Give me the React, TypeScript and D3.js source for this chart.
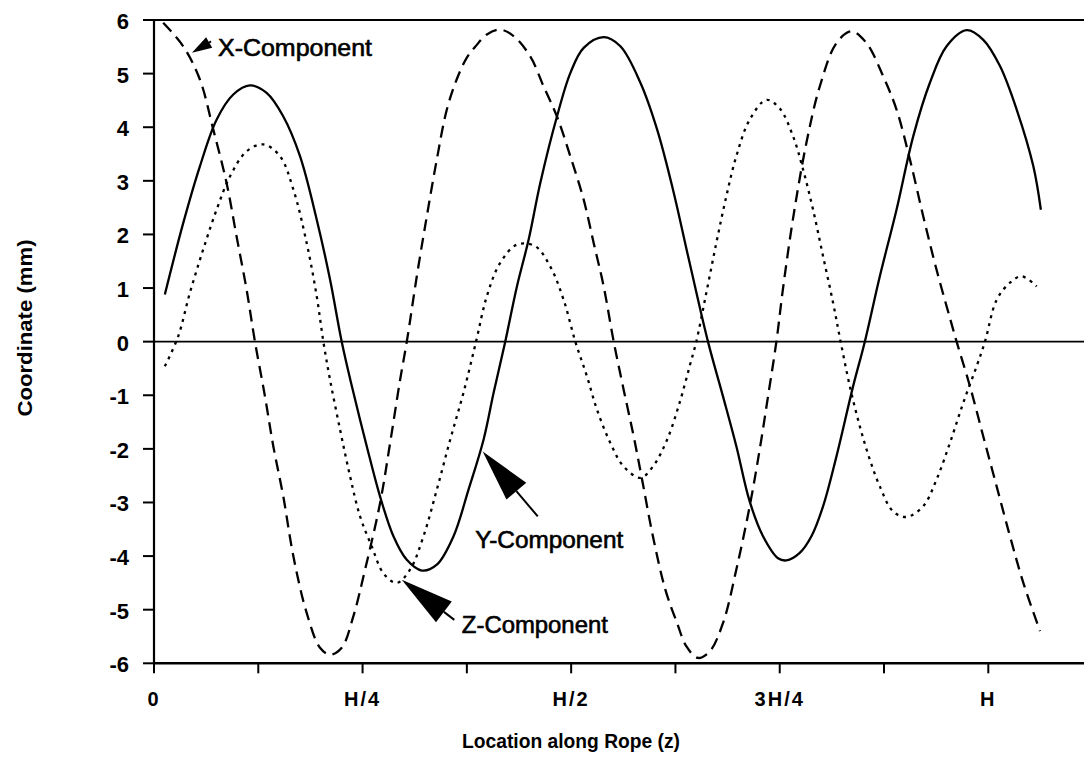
import React, { useEffect, useRef } from 'react'
import * as d3 from 'd3'

const width = 1084
const height = 757

// location along the rope as a fraction of H, coordinate in mm
const xComponent: [number, number][] = [
  [0.011, 5.95], [0.035, 5.51], [0.055, 4.89], [0.071, 3.96], [0.087, 2.96], [0.099, 1.96],
  [0.111, 0.97], [0.121, 0], [0.133, -1.02], [0.143, -1.95], [0.155, -2.89], [0.167, -4.0],
  [0.183, -5.06], [0.199, -5.71], [0.211, -5.84], [0.225, -5.71], [0.239, -5.12], [0.253, -4.25],
  [0.271, -3.01], [0.283, -1.89], [0.295, -0.71], [0.303, 0], [0.315, 1.22], [0.327, 2.34],
  [0.339, 3.4], [0.351, 4.33], [0.363, 4.9], [0.375, 5.3], [0.385, 5.5], [0.399, 5.73],
  [0.415, 5.82], [0.431, 5.7], [0.451, 5.32], [0.467, 4.76], [0.483, 4.2], [0.499, 3.46],
  [0.515, 2.65], [0.527, 1.84], [0.539, 1.03], [0.551, 0], [0.563, -0.9], [0.575, -1.77],
  [0.585, -2.57], [0.598, -3.63], [0.613, -4.63], [0.627, -5.25], [0.638, -5.68], [0.652, -5.9],
  [0.666, -5.78], [0.682, -5.25], [0.698, -4.25], [0.714, -3.07], [0.726, -2.01], [0.736, -1.02],
  [0.746, 0], [0.754, 1.0], [0.766, 2.3], [0.782, 3.71], [0.798, 4.76], [0.818, 5.57],
  [0.836, 5.79], [0.854, 5.57], [0.874, 4.95], [0.89, 4.33], [0.906, 3.4], [0.922, 2.34],
  [0.938, 1.34], [0.958, 0.22], [0.962, 0], [0.978, -0.83], [0.994, -1.77], [1.01, -2.7],
  [1.026, -3.63], [1.042, -4.5], [1.062, -5.4]
]

const yComponent: [number, number][] = [
  [0.013, 0.88], [0.035, 2.21], [0.055, 3.27], [0.075, 4.14], [0.095, 4.61], [0.115, 4.78],
  [0.135, 4.64], [0.155, 4.2], [0.175, 3.46], [0.195, 2.28], [0.211, 1.16], [0.225, 0],
  [0.239, -0.95], [0.255, -1.95], [0.271, -2.89], [0.287, -3.63], [0.303, -4.07], [0.321, -4.27],
  [0.339, -4.16], [0.359, -3.63], [0.377, -2.76], [0.395, -1.83], [0.407, -0.96], [0.421, 0],
  [0.435, 1.03], [0.449, 1.9], [0.463, 2.96], [0.483, 4.2], [0.499, 5.01], [0.515, 5.48],
  [0.539, 5.68], [0.559, 5.51], [0.583, 4.83], [0.603, 3.96], [0.622, 2.84], [0.642, 1.47],
  [0.664, 0], [0.682, -1.02], [0.698, -1.95], [0.714, -2.98], [0.73, -3.63], [0.748, -4.04],
  [0.758, -4.08], [0.774, -3.94], [0.788, -3.63], [0.802, -3.07], [0.818, -2.14], [0.838, -0.83],
  [0.852, 0], [0.87, 1.22], [0.89, 2.46], [0.91, 3.83], [0.93, 4.83], [0.95, 5.51],
  [0.974, 5.81], [0.994, 5.63], [1.014, 5.14], [1.034, 4.33], [1.054, 3.27], [1.063, 2.46]
]

const zComponent: [number, number][] = [
  [0.013, -0.46], [0.029, 0.1], [0.043, 0.91], [0.059, 1.72], [0.075, 2.46], [0.091, 3.08],
  [0.111, 3.55], [0.131, 3.68], [0.151, 3.46], [0.167, 2.84], [0.183, 1.84], [0.195, 0.85],
  [0.203, 0], [0.211, -0.71], [0.223, -1.64], [0.235, -2.51], [0.247, -3.26], [0.261, -3.82],
  [0.275, -4.32], [0.291, -4.5], [0.307, -4.25], [0.323, -3.63], [0.339, -2.76], [0.355, -1.83],
  [0.371, -0.95], [0.386, 0], [0.399, 0.85], [0.415, 1.47], [0.435, 1.81], [0.457, 1.78],
  [0.475, 1.4], [0.491, 0.78], [0.505, 0], [0.519, -0.65], [0.531, -1.27], [0.547, -1.89],
  [0.563, -2.33], [0.583, -2.54], [0.598, -2.33], [0.615, -1.83], [0.63, -1.14], [0.642, -0.46],
  [0.65, 0], [0.662, 0.91], [0.674, 1.84], [0.686, 2.71], [0.698, 3.46], [0.714, 4.14],
  [0.734, 4.51], [0.75, 4.35], [0.766, 3.83], [0.778, 3.21], [0.79, 2.46], [0.802, 1.59],
  [0.814, 0.72], [0.823, 0], [0.834, -0.83], [0.846, -1.58], [0.858, -2.2], [0.87, -2.7],
  [0.886, -3.17], [0.902, -3.27], [0.922, -3.07], [0.938, -2.57], [0.954, -1.89], [0.97, -1.14],
  [0.986, -0.46], [0.996, 0], [1.01, 0.78], [1.026, 1.1], [1.04, 1.22], [1.058, 1.03]
]

const xTickValues = [0, 0.25, 0.5, 0.75, 1]
const xTickLabels = ['0', 'H/4', 'H/2', '3H/4', 'H']
const xMinorTicks = [0.125, 0.375, 0.625, 0.875]
const yTickValues = [-6, -5, -4, -3, -2, -1, 0, 1, 2, 3, 4, 5, 6]

const callouts = [
  { label: 'X-Component', tip: [0.0455, 5.39], tail: [0.0683, 5.6], head: 20, headWidth: 12, at: [0.0767, 5.32], len: 154 },
  { label: 'Y-Component', tip: [0.394, -2.05], tail: [0.46, -3.26], head: 52, headWidth: 26, at: [0.385, -3.84], len: 148 },
  { label: 'Z-Component', tip: [0.297, -4.44], tail: [0.36, -5.19], head: 53, headWidth: 26, at: [0.369, -5.43], len: 146 }
]

const font = '"Liberation Sans", Arial, Helvetica, sans-serif'

function RopeChart () {
  const ref = useRef<SVGSVGElement>(null)

  useEffect(() => {
    const svg = d3.select(ref.current)
    svg.selectAll('*').remove()

    const left = 154
    const x = d3.scaleLinear().domain([0, 1]).range([left, 988.3])
    const y = d3.scaleLinear().domain([-6, 6]).range([663.3, 20])

    // frame lines (top, bottom, zero, left)
    svg.append('line')
      .attr('x1', left).attr('x2', width).attr('y1', y(6)).attr('y2', y(6))
      .attr('stroke', '#000').attr('stroke-width', 2.2)
    svg.append('line')
      .attr('x1', left).attr('x2', width).attr('y1', y(-6)).attr('y2', y(-6))
      .attr('stroke', '#000').attr('stroke-width', 2.6)
    svg.append('line')
      .attr('x1', left).attr('x2', width).attr('y1', y(0)).attr('y2', y(0))
      .attr('stroke', '#000').attr('stroke-width', 1.6)
    svg.append('line')
      .attr('x1', left).attr('x2', left).attr('y1', y(6)).attr('y2', y(-6))
      .attr('stroke', '#000').attr('stroke-width', 2.2)

    // y ticks
    const yt = svg.append('g')
    yt.selectAll('line').data(yTickValues).enter().append('line')
      .attr('x1', left - 11).attr('x2', left)
      .attr('y1', d => y(d)).attr('y2', d => y(d))
      .attr('stroke', '#000').attr('stroke-width', 2)
    yt.selectAll('text').data(yTickValues).enter().append('text')
      .attr('x', 129).attr('y', d => y(d) + 9)
      .attr('text-anchor', 'end')
      .attr('font-family', font).attr('font-weight', 'bold').attr('font-size', 22)
      .text(d => String(d))

    // x ticks
    const xt = svg.append('g')
    xt.selectAll('line').data(xTickValues.concat(xMinorTicks)).enter().append('line')
      .attr('x1', d => x(d)).attr('x2', d => x(d))
      .attr('y1', y(-6)).attr('y2', y(-6) + 10)
      .attr('stroke', '#000').attr('stroke-width', 2)
    xt.selectAll('text').data(xTickValues).enter().append('text')
      .attr('x', d => x(d)).attr('y', 706)
      .attr('text-anchor', 'middle')
      .attr('font-family', font).attr('font-weight', 'bold').attr('font-size', 20)
      .attr('letter-spacing', 2)
      .text((d, i) => xTickLabels[i])

    // axis titles
    svg.append('text')
      .attr('x', 571).attr('y', 748)
      .attr('text-anchor', 'middle')
      .attr('font-family', font).attr('font-weight', 'bold').attr('font-size', 21)
      .attr('textLength', 218).attr('lengthAdjust', 'spacingAndGlyphs')
      .text('Location along Rope (z)')
    svg.append('g')
      .attr('transform', 'translate(32,328)')
      .append('text')
      .attr('transform', 'rotate(-90)')
      .attr('text-anchor', 'middle')
      .attr('font-family', font).attr('font-weight', 'bold').attr('font-size', 21)
      .attr('textLength', 177).attr('lengthAdjust', 'spacingAndGlyphs')
      .text('Coordinate (mm)')

    // curves
    const line = d3.line<[number, number]>()
      .x(d => x(d[0]))
      .y(d => y(d[1]))
      .curve(d3.curveCatmullRom)

    const series = [
      { data: yComponent, dash: null },
      { data: xComponent, dash: '12,7' },
      { data: zComponent, dash: '3,5' }
    ]
    series.forEach(s => {
      svg.append('path')
        .datum(s.data)
        .attr('fill', 'none')
        .attr('stroke', '#000')
        .attr('stroke-width', 2.3)
        .attr('stroke-dasharray', s.dash)
        .attr('d', line)
    })

    // callout arrows and labels
    callouts.forEach(c => {
      const px = x(c.tip[0]); const py = y(c.tip[1])
      const qx = x(c.tail[0]); const qy = y(c.tail[1])
      const len = Math.hypot(qx - px, qy - py)
      const ux = (qx - px) / len; const uy = (qy - py) / len
      const bx = px + ux * c.head; const by = py + uy * c.head
      const nx = -uy * c.headWidth / 2; const ny = ux * c.headWidth / 2
      svg.append('path')
        .attr('d', `M${px},${py}L${bx + nx},${by + ny}L${bx - nx},${by - ny}Z`)
        .attr('fill', '#000')
      if (len > c.head) {
        svg.append('line')
          .attr('x1', bx).attr('y1', by).attr('x2', qx).attr('y2', qy)
          .attr('stroke', '#000').attr('stroke-width', 2)
      }
      svg.append('text')
        .attr('x', x(c.at[0])).attr('y', y(c.at[1]))
        .attr('font-family', font).attr('font-size', 23)
        .attr('stroke', '#000').attr('stroke-width', 0.6)
        .attr('textLength', c.len).attr('lengthAdjust', 'spacingAndGlyphs')
        .text(c.label)
    })
  }, [])

  return (
    <div style={{ position: 'absolute', left: 0, top: 0 }}>
      <svg ref={ref} width={width} height={height} style={{ display: 'block', background: '#fff' }} />
    </div>
  )
}

export default function App () {
  return <RopeChart />
}
